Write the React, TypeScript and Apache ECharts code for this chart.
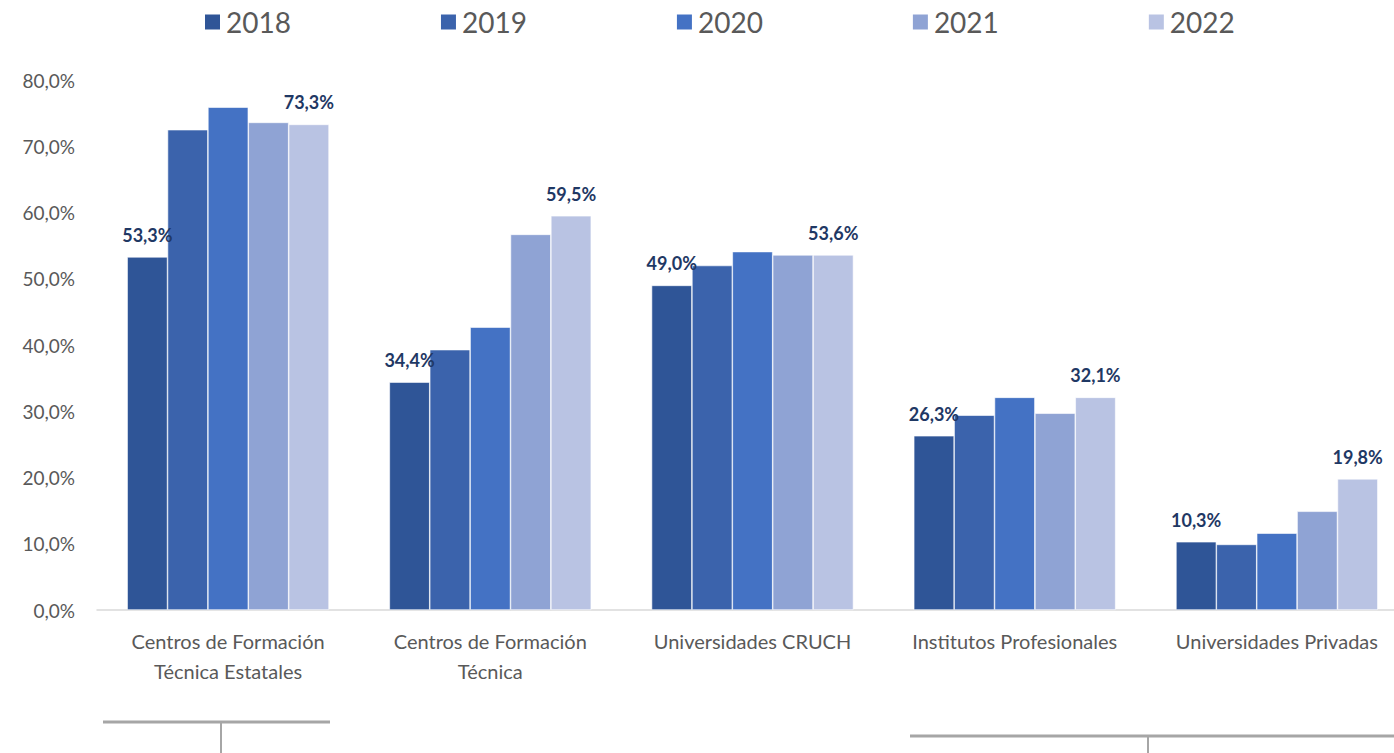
import React, { useEffect, useRef } from "react";
import * as echarts from "echarts";

const categories = [
  "Centros de Formación\nTécnica Estatales",
  "Centros de Formación\nTécnica",
  "Universidades CRUCH",
  "Institutos Profesionales",
  "Universidades Privadas",
];
const years = ["2018", "2019", "2020", "2021", "2022"];
const v2018 = [53.3, 34.4, 49.0, 26.3, 10.3];
const v2019 = [72.5, 39.3, 52.0, 29.4, 9.9];
const v2020 = [75.9, 42.7, 54.1, 32.1, 11.6];
const v2021 = [73.6, 56.7, 53.6, 29.7, 14.9];
const v2022 = [73.3, 59.5, 53.6, 32.1, 19.8];
const seriesValues = [v2018, v2019, v2020, v2021, v2022];
const colors = ["#2F5597", "#3B63AC", "#4472C4", "#8FA3D4", "#B9C3E3"];
const labeled = [true, false, false, false, true];
const yTicks = { min: 0, max: 80, interval: 10 };

const FONT = "Lato, 'Open Sans', sans-serif";

export default function App() {
  const ref = useRef<HTMLDivElement>(null);
  useEffect(() => {
    if (!ref.current) return;
    const chart = echarts.init(ref.current, null, { renderer: "svg" });
    const fmt = (v: number) => v.toFixed(1).replace(".", ",") + "%";
    chart.setOption({
      animation: false,
      textStyle: { fontFamily: FONT },
      legend: {
        top: 3,
        left: 198,
        itemWidth: 17,
        itemHeight: 17,
        itemGap: 148,
        icon: "rect",
        textStyle: { fontSize: 28, color: "#595959", fontFamily: FONT },
        data: years,
      },
      grid: { left: 97, top: 80, right: 0, height: 530, containLabel: false },
      xAxis: {
        type: "category",
        data: categories,
        axisLine: { lineStyle: { color: "#D9D9D9", width: 1.5 } },
        axisTick: { show: false },
        axisLabel: {
          color: "#595959",
          fontSize: 20,
          lineHeight: 30,
          margin: 16,
          fontFamily: FONT,
          interval: 0,
        },
      },
      yAxis: {
        type: "value",
        min: yTicks.min,
        max: yTicks.max,
        interval: yTicks.interval,
        axisLine: { show: false },
        axisTick: { show: false },
        splitLine: { show: false },
        axisLabel: {
          color: "#595959",
          fontSize: 19,
          margin: 22,
          fontFamily: FONT,
          formatter: (v: number) => fmt(v),
        },
      },
      series: years.map((y, i) => ({
        name: y,
        type: "bar",
        data: seriesValues[i],
        barGap: "0%",
        barCategoryGap: "23%",
        itemStyle: { color: colors[i], borderColor: "#FFFFFF", borderWidth: 0.6 },
        label: {
          show: labeled[i],
          position: "top",
          distance: 13,
          color: "#1F3864",
          fontWeight: "bold",
          fontSize: 18,
          fontFamily: FONT,
          formatter: (p: any) => fmt(p.value),
        },
      })),
      graphic: [
        { type: "line", shape: { x1: 103, y1: 722, x2: 330, y2: 722 }, style: { stroke: "#A6A6A6", lineWidth: 3 } },
        { type: "line", shape: { x1: 221, y1: 722, x2: 221, y2: 753 }, style: { stroke: "#A6A6A6", lineWidth: 2 } },
        { type: "line", shape: { x1: 910, y1: 736, x2: 1394, y2: 736 }, style: { stroke: "#A6A6A6", lineWidth: 3 } },
        { type: "line", shape: { x1: 1148, y1: 736, x2: 1148, y2: 753 }, style: { stroke: "#A6A6A6", lineWidth: 2 } },
      ],
    });
    return () => chart.dispose();
  }, []);
  return (
    <div style={{ position: "fixed", left: 0, top: 0, width: 1394, height: 753, overflow: "hidden", background: "#FFFFFF" }}>
      <div ref={ref} style={{ position: "absolute", left: 0, top: 0, width: 1408, height: 753 }} />
    </div>
  );
}
